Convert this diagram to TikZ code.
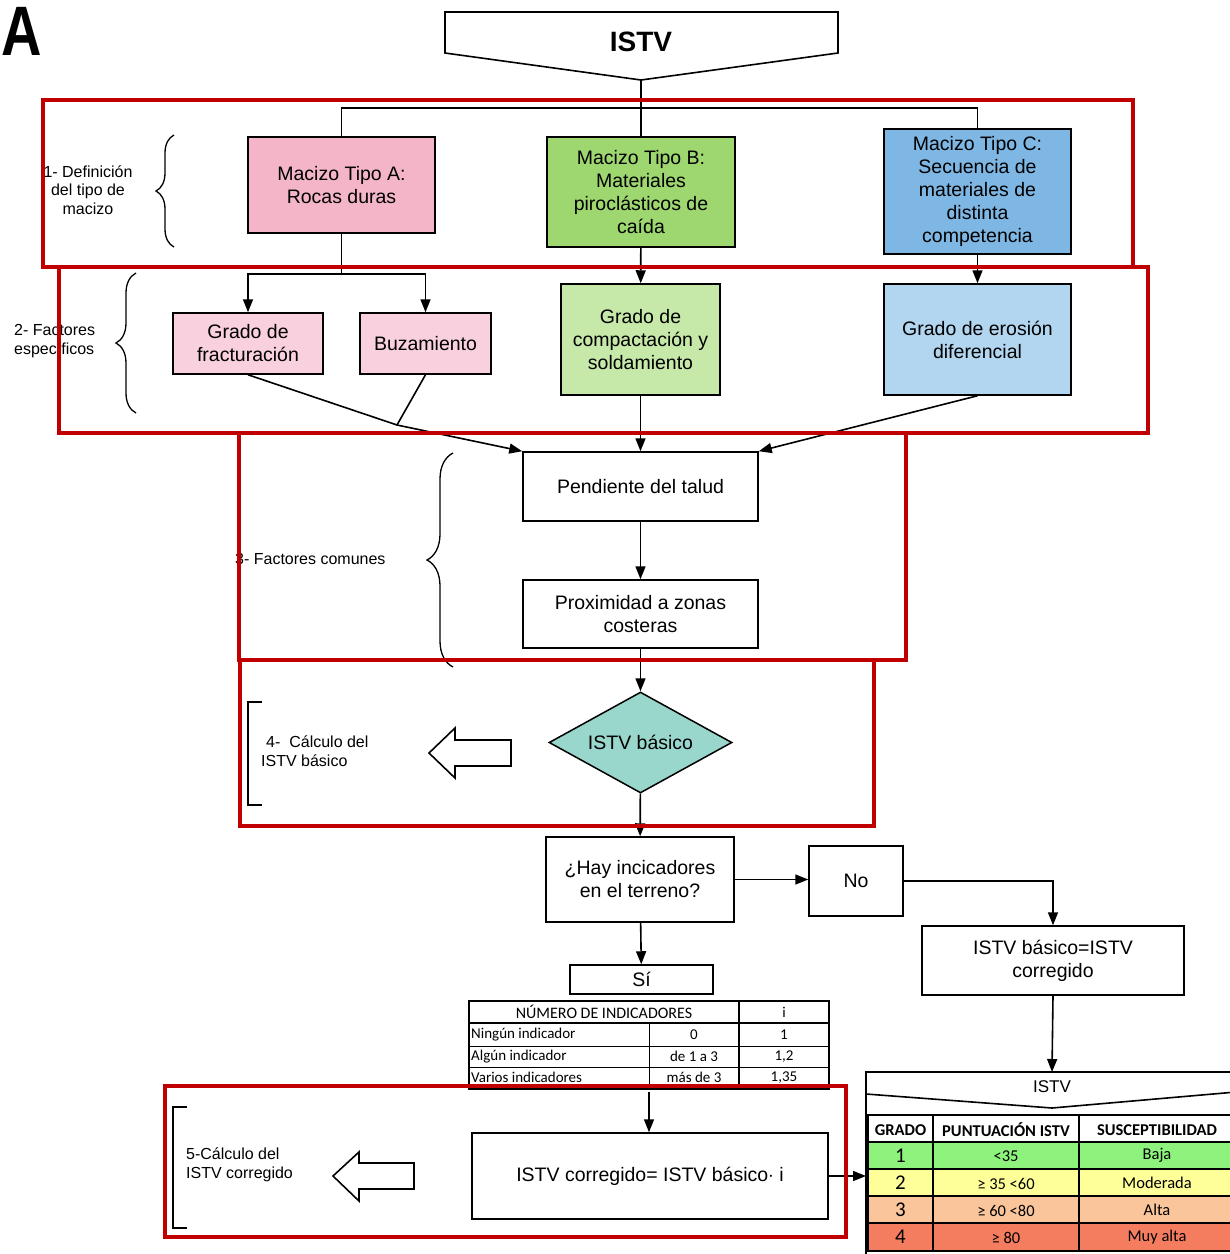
\documentclass[tikz,border=0pt]{standalone}
\usepackage{fontspec}
\usepackage{graphicx}
\setmainfont{Liberation Sans}
\newfontfamily\calibri{Carlito}
\usetikzlibrary{arrows.meta,shapes.geometric,decorations.pathreplacing}

% Colours
\definecolor{rojo}{RGB}{192,0,0}
\definecolor{rosaA}{RGB}{244,181,201}
\definecolor{rosaB}{RGB}{249,208,221}
\definecolor{verdeA}{RGB}{158,215,112}
\definecolor{verdeB}{RGB}{198,232,168}
\definecolor{azulA}{RGB}{127,183,228}
\definecolor{azulB}{RGB}{178,213,240}
\definecolor{turquesa}{RGB}{153,214,204}
\definecolor{verdeT}{RGB}{142,243,125}
\definecolor{amarilloT}{RGB}{255,255,153}
\definecolor{naranjaT}{RGB}{250,197,155}
\definecolor{rojoT}{RGB}{245,125,95}

\tikzset{
  caja/.style={draw, line width=1.5pt, inner sep=0pt, align=center, font=\fontsize{19.5}{23}\selectfont},
  linea/.style={line width=1.6pt},
  flecha/.style={line width=1.6pt, -{Triangle[length=13pt,width=10pt]}},
  marco/.style={draw=rojo, line width=4pt},
  llave/.style={line width=1.3pt, decorate, decoration={brace, amplitude=#1}},
  nota/.style={inner sep=0pt, font=\fontsize{16}{18.5}\selectfont},
  celda/.style={inner sep=0pt, font=\calibri\fontsize{15}{17}\selectfont},
  celdaB/.style={inner sep=0pt, font=\calibri\fontsize{16.5}{18}\selectfont}
}

\begin{document}
\begin{tikzpicture}[x=1pt,y=-1pt]

% Fix the page size
\useasboundingbox (0,0) rectangle (1230,1254);

% Letter A
\node[inner sep=0pt, anchor=base west, font=\bfseries\fontsize{70}{70}\selectfont] (letraA) at (1,55) {\scalebox{0.8}[1]{A}};

% Title shape ISTV
\draw[linea] (445,12) -- (838,12) -- (838,53) -- (641,80) -- (445,53) -- cycle;
\node[font=\bfseries\fontsize{28}{30}\selectfont, inner sep=0pt] (titulo) at (641,42) {ISTV};
\coordinate (punta) at (641,80);
\coordinate (reparto) at (641,108);

% Step 1: type of rock mass
\node[caja, fill=rosaA, minimum width=187pt, minimum height=96pt] (macA) at (341.5,185) {Macizo Tipo A:\\Rocas duras};
\node[caja, fill=verdeA, minimum width=188pt, minimum height=110pt] (macB) at (641,192) {Macizo Tipo B:\\Materiales\\piroclásticos de\\caída};
\node[caja, fill=azulA, minimum width=187pt, minimum height=125pt] (macC) at (977.5,191.5) {Macizo Tipo C:\\Secuencia de\\materiales de\\distinta\\competencia};

% Step 2: specific factors
\node[caja, fill=rosaB, minimum width=150pt, minimum height=61pt] (fract) at (248,343.5) {Grado de\\fracturación};
\node[caja, fill=rosaB, minimum width=131pt, minimum height=61pt] (buz) at (425.5,343.5) {Buzamiento};
\node[caja, fill=verdeB, minimum width=159pt, minimum height=111pt] (compac) at (640.5,339.5) {Grado de\\compactación y\\soldamiento};
\node[caja, fill=azulB, minimum width=187pt, minimum height=111pt] (eros) at (977.5,339.5) {Grado de erosión\\diferencial};

% Step 3: common factors
\node[caja, minimum width=235pt, minimum height=69pt] (pend) at (640.5,486.5) {Pendiente del talud};
\node[caja, minimum width=235pt, minimum height=68pt] (prox) at (640.5,614) {Proximidad a zonas\\costeras};

% Step 4: basic ISTV
\node[caja, diamond, fill=turquesa, aspect=1.8, minimum width=183pt, minimum height=101pt] (basico) at (640.5,742.5) {ISTV básico};

% Indicators on the ground
\node[caja, minimum width=188pt, minimum height=85pt] (hay) at (640,879.5) {¿Hay incicadores\\en el terreno?};
\node[caja, minimum width=94pt, minimum height=70pt] (no) at (856,881) {No};
\node[caja, minimum width=262pt, minimum height=69pt] (igual) at (1053,960.5) {ISTV básico=ISTV\\corregido};
\node[caja, minimum width=143pt, minimum height=29pt] (si) at (641.5,979.5) {Sí};

% Step 5: corrected ISTV
\node[caja, minimum width=356pt, minimum height=86pt] (corr) at (650,1176) {ISTV corregido= ISTV básico$\cdot$ i};

% Table of indicators
\draw[line width=0.8pt] (469,1046) -- (829,1046) (469,1067) -- (829,1067);
\draw[line width=0.8pt] (649,1023) -- (649,1089);
\draw[line width=1.4pt] (469,1023) -- (829,1023) (739,1001) -- (739,1089);
\draw[line width=1.8pt] (469,1001) rectangle (829,1089);
\node[celda, font=\calibri\fontsize{16}{18}\selectfont] (cabA) at (604,1012) {NÚMERO DE INDICADORES};
\node[celda] (cabB) at (784,1012) {i};
\foreach \y/\a/\b/\c [count=\n] in {1034.5/Ningún indicador/0/1, 1056.5/Algún indicador/de 1 a 3/{1,2}, 1077.5/Varios indicadores/más de 3/{1,35}}
{
  \node[celda, anchor=west] (ind\n) at (471,\y) {\a};
  \node[celda] (num\n) at (694,\y) {\b};
  \node[celda] (fac\n) at (784,\y) {\c};
}
\coordinate (tabind) at (649,1092);

% Output shape ISTV
\draw[linea] (1236,1072) -- (866,1072) -- (866,1256);
\draw[linea] (866,1094) -- (1052,1108) -- (1236,1092);
\node[inner sep=0pt, font=\fontsize{17}{19}\selectfont] (istv2) at (1052,1087) {ISTV};
\coordinate (istvtop) at (1052,1072);
\coordinate (istvizq) at (866,1176);

% Susceptibility table
\foreach \ya/\yb/\g/\p/\s/\c [count=\n] in {1142/1169/1/{<35}/Baja/verdeT, 1169/1196/2/{≥ 35 <60}/Moderada/amarilloT, 1196/1223/3/{≥ 60 <80}/Alta/naranjaT, 1223/1251/4/{≥ 80}/Muy alta/rojoT}
{
  \fill[\c] (868,\ya) rectangle (1236,\yb);
  \node[inner sep=0pt, font=\calibri\fontsize{21}{22}\selectfont] (gr\n) at (900.5,{(\ya+\yb)/2}) {\g};
  \node[celdaB] (pt\n) at (1006,{(\ya+\yb)/2+1}) {\p};
  \node[celdaB] (su\n) at (1157,{(\ya+\yb)/2}) {\s};
}
\foreach \y in {1142,1169,1196,1223}
  \draw[line width=1.2pt] (868,\y) -- (1236,\y);
\draw[line width=1.2pt] (933,1115) -- (933,1251) (1079,1115) -- (1079,1251);
\draw[line width=1.8pt] (868,1115) rectangle (1236,1251);
\node[celdaB, font=\calibri\bfseries\fontsize{16.5}{18}\selectfont] (hgr) at (900.5,1130) {GRADO};
\node[celdaB, font=\calibri\bfseries\fontsize{16.5}{18}\selectfont] (hpt) at (1006,1130) {PUNTUACIÓN ISTV};
\node[celdaB, font=\calibri\bfseries\fontsize{16.5}{18}\selectfont] (hsu) at (1157,1130) {SUSCEPTIBILIDAD};

% Connectors
\draw[linea] (punta) -- (macB);
\draw[linea] (macA.north) |- (reparto) -| (macC.north);
\coordinate (rama) at (341.5,274);
\draw[linea] (macA.south) -- (rama);
\draw[flecha] (rama) -| (fract.north);
\draw[flecha] (rama) -| (buz.north);
\draw[flecha] (macB) -- (compac);
\draw[flecha] (macC) -- (eros);
\coordinate (union) at (397,425);
\draw[linea] (fract.south) -- (union) -- (buz.south);
\draw[flecha] (union) -- (pend.north west);
\draw[flecha] (compac) -- (pend);
\draw[flecha] (eros.south) -- (pend.north east);
\draw[flecha] (pend) -- (prox);
\draw[flecha] (prox) -- (basico);
\draw[flecha] (basico) -- (hay);
\draw[flecha] (hay.east) -- (hay.east -| no.west);
\draw[flecha] (no.east) -| (igual.north);
\draw[flecha] (hay) -- (si);
\draw[flecha] (igual.south) -- (istvtop);
\draw[flecha] (tabind) -- (tabind |- corr.north);
\draw[flecha] (corr.east) -- (istvizq);

% Side labels with braces
\draw[llave=18pt] (174,247) -- (174,135);
\node[nota, align=center] (paso1) at (88,190) {1- Definición\\del tipo de\\macizo};
\draw[llave=20pt] (136,413) -- (136,273);
\node[nota, align=left, anchor=west] (paso2) at (14,341) {2- Factores\\específicos};
\draw[llave=26pt] (453,667) -- (453,453);
\node[nota, anchor=west] (paso3) at (235,559) {3- Factores comunes};

% Side labels with brackets
\draw[linea] (262,702) -- (248,702) -- (248,805) -- (262,805);
\node[nota, align=left, anchor=west] (paso4) at (261,751) {\hspace{5pt}4-\ \ Cálculo del\\ISTV básico};
\draw[linea] (187,1107) -- (173,1107) -- (173,1228) -- (187,1228);
\node[nota, align=left, anchor=west] (paso5) at (186,1165) {5-Cálculo del\\ISTV corregido};

% Block arrows
\draw[linea] (429,753) -- (455,728) -- (455,740) -- (511,740) -- (511,766) -- (455,766) -- (455,778) -- cycle;
\draw[linea] (333,1176) -- (359,1152) -- (359,1163) -- (414,1163) -- (414,1189) -- (359,1189) -- (359,1201) -- cycle;

% Red frames
\draw[marco] (43,100) rectangle (1133,267);
\draw[marco] (59,267) rectangle (1148,433);
\draw[marco] (239,433) rectangle (906,660);
\draw[marco] (240,660) rectangle (874,826);
\draw[marco] (165,1086) rectangle (846,1237);

\end{tikzpicture}
\end{document}
